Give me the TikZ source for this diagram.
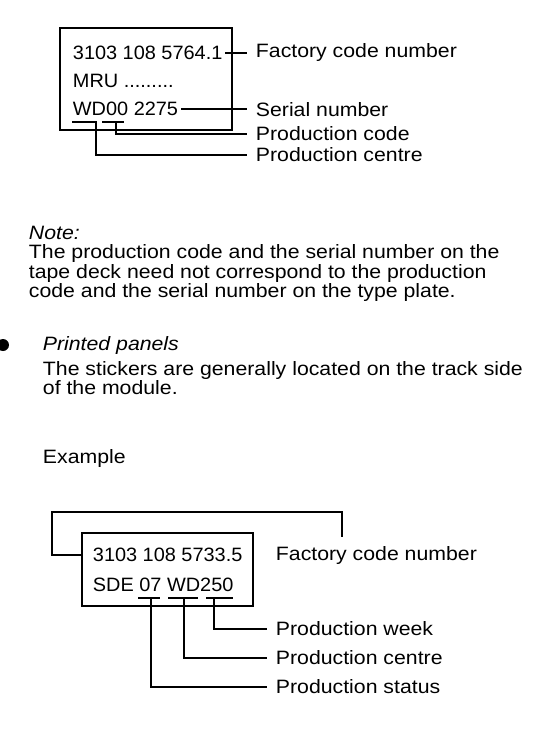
\documentclass[tikz,border=0pt]{standalone}
\usepackage{fontspec}
\setmainfont{Liberation Sans}[FakeStretch=1.1]
\newfontfamily\platefamily{Liberation Sans}[FakeStretch=1.03]
\usetikzlibrary{positioning}
\newcommand{\bodyfont}{\fontsize{14.5}{13.5}\selectfont}
\newcommand{\platefont}{\platefamily\fontsize{14.5}{13.5}\selectfont}

\begin{document}
\begin{tikzpicture}[
  x=0.75pt, y=-0.75pt,
  plate/.style={draw, line width=1.2pt, inner sep=0pt},
  txt/.style={anchor=west, inner sep=2pt, font=\bodyfont},
  ptxt/.style={txt, font=\platefont},
  ital/.style={txt, font=\bodyfont\itshape},
  lead/.style={line width=0.9pt},
  tolabel/.style={lead, shorten >=4.5pt},
]
\useasboundingbox (0,0) rectangle (551,735);

\node[plate, minimum width=129pt, minimum height=76.5pt] (deck) at (146,79) {};
\node[ptxt] (dcode) at (70,53) {3103 108 5764.1};
\node[ptxt] (dmru) at (70,81) {MRU .........};
\node[ptxt] (dser) at (70,109) {WD00 2275};
\node[txt] (lfac) at (253,53) {Factory code number};
\node[txt] (lser) at (253,110) {Serial number};
\node[txt] (lcode) at (253,134) {Production code};
\node[txt] (lcent) at (253,155) {Production centre};
\coordinate (tWD) at (96,122);
\coordinate (t00) at (116,122);
\draw[lead] (72,122) -- (97,122);
\draw[lead] (102,122) -- (124,122);
\draw[tolabel] (dcode.east) -- (dcode.east -| lfac.west);
\draw[tolabel] (dser.east) -- (dser.east -| lser.west);
\draw[tolabel] (t00) |- (lcode.west);
\draw[tolabel] (tWD) |- (lcent.west);

\node[ital] (note) at (26,233) {Note:};
\node[txt, align=left] (notebody) at (26,273) {The production code and the serial number on the\\
  tape deck need not correspond to the production\\
  code and the serial number on the type plate.};

\node[circle, fill, inner sep=0pt, minimum size=9pt] (dot) at (3,345) {};
\node[ital] (panels) at (40,345) {Printed panels};
\node[txt, align=left] (panelsbody) at (40,378) {The stickers are generally located on the track side\\
  of the module.};

\node[txt] (example) at (40,458) {Example};

\node[plate, minimum width=128.25pt, minimum height=54.75pt] (panel) at (167.5,569.5) {};
\node[ptxt] (pcode) at (90,555) {3103 108 5733.5};
\node[ptxt] (pprod) at (90,585) {SDE 07 WD250};
\node[txt] (pfac) at (273,555) {Factory code number};
\node[txt] (pweek) at (273,629) {Production week};
\node[txt] (pcent) at (273,658) {Production centre};
\node[txt] (pstat) at (273,687) {Production status};
\coordinate (brk) at (342,537);
\coordinate (u07) at (151,598);
\coordinate (uWD) at (184,598);
\coordinate (u250) at (214,598);
\draw[lead] (138,598) -- (160,598);
\draw[lead] (168,598) -- (198,598);
\draw[lead] (206,598) -- (233,598);
\draw[lead] (pcode -| panel.west) -| (52,512) -| (brk);
\draw[tolabel] (u250) |- (pweek.west);
\draw[tolabel] (uWD) |- (pcent.west);
\draw[tolabel] (u07) |- (pstat.west);
\end{tikzpicture}
\end{document}
